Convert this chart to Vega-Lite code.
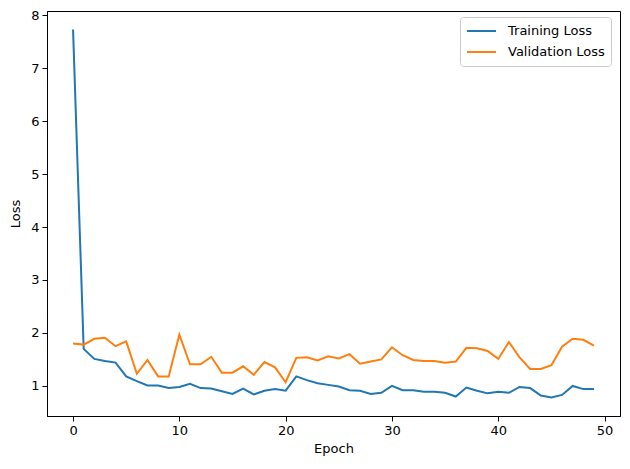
{
  "$schema": "https://vega.github.io/schema/vega-lite/v6.json",
  "width": 573,
  "height": 405,
  "autosize": {"type": "none"},
  "padding": {"left": 47, "top": 11, "right": 10, "bottom": 53},
  "background": "white",
  "config": {
    "font": "DejaVu Sans",
    "view": {"stroke": "black", "strokeWidth": 1},
    "axis": {
      "domainColor": "black",
      "tickColor": "black",
      "tickSize": 5,
      "labelFontSize": 13,
      "labelColor": "black",
      "titleFontSize": 13,
      "titleFontWeight": "normal",
      "titleColor": "black",
      "grid": false,
      "labelPadding": 3
    }
  },
  "data": {
    "values": [
      {"epoch": 0, "train": 7.73, "val": 1.80},
      {"epoch": 1, "train": 1.70, "val": 1.78},
      {"epoch": 2, "train": 1.51, "val": 1.89},
      {"epoch": 3, "train": 1.47, "val": 1.91},
      {"epoch": 4, "train": 1.44, "val": 1.75},
      {"epoch": 5, "train": 1.18, "val": 1.84},
      {"epoch": 6, "train": 1.09, "val": 1.23},
      {"epoch": 7, "train": 1.01, "val": 1.49},
      {"epoch": 8, "train": 1.01, "val": 1.18},
      {"epoch": 9, "train": 0.96, "val": 1.18},
      {"epoch": 10, "train": 0.98, "val": 1.97},
      {"epoch": 11, "train": 1.04, "val": 1.41},
      {"epoch": 12, "train": 0.96, "val": 1.41},
      {"epoch": 13, "train": 0.95, "val": 1.55},
      {"epoch": 14, "train": 0.90, "val": 1.25},
      {"epoch": 15, "train": 0.85, "val": 1.25},
      {"epoch": 16, "train": 0.95, "val": 1.37},
      {"epoch": 17, "train": 0.84, "val": 1.21},
      {"epoch": 18, "train": 0.91, "val": 1.45},
      {"epoch": 19, "train": 0.94, "val": 1.35},
      {"epoch": 20, "train": 0.91, "val": 1.07},
      {"epoch": 21, "train": 1.18, "val": 1.53},
      {"epoch": 22, "train": 1.11, "val": 1.54},
      {"epoch": 23, "train": 1.05, "val": 1.48},
      {"epoch": 24, "train": 1.02, "val": 1.56},
      {"epoch": 25, "train": 0.99, "val": 1.52},
      {"epoch": 26, "train": 0.92, "val": 1.60},
      {"epoch": 27, "train": 0.91, "val": 1.42},
      {"epoch": 28, "train": 0.85, "val": 1.46},
      {"epoch": 29, "train": 0.87, "val": 1.50},
      {"epoch": 30, "train": 1.00, "val": 1.73},
      {"epoch": 31, "train": 0.92, "val": 1.58},
      {"epoch": 32, "train": 0.92, "val": 1.49},
      {"epoch": 33, "train": 0.89, "val": 1.47},
      {"epoch": 34, "train": 0.89, "val": 1.47},
      {"epoch": 35, "train": 0.87, "val": 1.44},
      {"epoch": 36, "train": 0.80, "val": 1.46},
      {"epoch": 37, "train": 0.97, "val": 1.72},
      {"epoch": 38, "train": 0.91, "val": 1.71},
      {"epoch": 39, "train": 0.86, "val": 1.66},
      {"epoch": 40, "train": 0.89, "val": 1.51},
      {"epoch": 41, "train": 0.87, "val": 1.83},
      {"epoch": 42, "train": 0.98, "val": 1.54},
      {"epoch": 43, "train": 0.96, "val": 1.32},
      {"epoch": 44, "train": 0.82, "val": 1.32},
      {"epoch": 45, "train": 0.78, "val": 1.39},
      {"epoch": 46, "train": 0.83, "val": 1.74},
      {"epoch": 47, "train": 1.00, "val": 1.89},
      {"epoch": 48, "train": 0.94, "val": 1.87},
      {"epoch": 49, "train": 0.94, "val": 1.76}
    ]
  },
  "transform": [
    {"fold": ["train", "val"], "as": ["key", "loss"]},
    {"calculate": "datum.key === 'train' ? 'Training Loss' : 'Validation Loss'", "as": "series"}
  ],
  "mark": {"type": "line", "strokeWidth": 2, "clip": true},
  "encoding": {
    "x": {
      "field": "epoch",
      "type": "quantitative",
      "title": "Epoch",
      "scale": {"domain": [-2.45, 51.45], "nice": false, "zero": false},
      "axis": {"values": [0, 10, 20, 30, 40, 50], "format": "d", "titlePadding": 5}
    },
    "y": {
      "field": "loss",
      "type": "quantitative",
      "title": "Loss",
      "scale": {"domain": [0.4325, 8.0775], "nice": false, "zero": false},
      "axis": {"values": [1, 2, 3, 4, 5, 6, 7, 8], "format": "d", "titlePadding": 8}
    },
    "color": {
      "field": "series",
      "type": "nominal",
      "scale": {"domain": ["Training Loss", "Validation Loss"], "range": ["#1f77b4", "#ff7f0e"]},
      "legend": {
        "title": null,
        "orient": "none",
        "legendX": 413,
        "legendY": 6,
        "symbolType": "stroke",
        "symbolSize": 841,
        "symbolStrokeWidth": 2,
        "clipHeight": 16,
        "labelFontSize": 13,
        "labelOffset": 11,
        "labelColor": "black",
        "rowPadding": 5,
        "padding": 6,
        "strokeColor": "#cccccc",
        "fillColor": "white",
        "cornerRadius": 3
      }
    }
  }
}
